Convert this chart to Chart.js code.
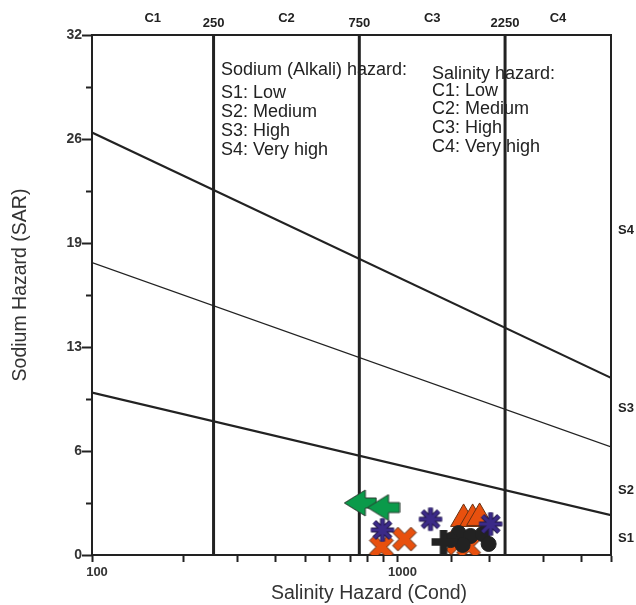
<!DOCTYPE html>
<html>
<head>
<meta charset="utf-8">
<script src="https://cdn.jsdelivr.net/npm/chart.js@4/dist/chart.umd.min.js"></script>
<style>
    body { margin: 0; background: #fff; }
    canvas { display: block; }
</style>
</head>
<body>
<canvas id="wilcoxChart" width="636" height="605"></canvas>
<script>
// Salinity (EC) class boundaries and axis range
const ecRange = [100, 5000];
const sarRange = [0, 32];
const ecBounds = [250, 750, 2250];
const ecBoundLabels = ['250', '750', '2250'];
const cClasses = ['C1', 'C2', 'C3', 'C4'];
const sClasses = ['S1', 'S2', 'S3', 'S4'];
const sClassSAR = [1, 4, 9, 20];

// Sodium hazard boundaries: SAR at EC=100 and at EC=5000
const hazardStart = [26, 18, 10];
const hazardEnd = [10.9, 6.65, 2.45];

// Samples (EC, SAR) by symbol
const arrowEC = [756, 900];
const arrowSAR = [3.2, 2.92];
const starEC = [893, 1283, 2018];
const starSAR = [1.54, 2.2, 1.91];
const crossEC = [886, 1054, 1573, 1709];
const crossSAR = [0.49, 0.98, 0.74, 0.55];
const triEC = [1646, 1762, 1857];
const triSAR = [2.22, 2.22, 2.28];
const dotEC = [1585, 1735, 1900, 1988, 1634, 1492];
const dotSAR = [1.35, 1.17, 1.29, 0.68, 0.62, 0.92];
const plusEC = [1415];
const plusSAR = [0.8];

const sodiumLegend = ['Sodium (Alkali) hazard:', 'S1: Low', 'S2: Medium', 'S3: High', 'S4: Very high'];
const salinityLegend = ['Salinity hazard:', 'C1: Low', 'C2: Medium', 'C3: High', 'C4: Very high'];

const INK = '#222';
const GREEN = '#0a9a4a';
const ORANGE = '#e8500e';
const PURPLE = '#3b2a88';

function pts(xs, ys) {
    return xs.map((x, i) => ({ x: x, y: ys[i] }));
}

function marker(w, h, draw) {
    const c = document.createElement('canvas');
    c.width = w; c.height = h;
    draw(c.getContext('2d'), w, h);
    return c;
}

// cross-shaped polygon (plus), optionally rotated
function crossPath(ctx, cx, cy, L, t, rot) {
    const p = [[-t,-L],[t,-L],[t,-t],[L,-t],[L,t],[t,t],[t,L],[-t,L],[-t,t],[-L,t],[-L,-t],[-t,-t]];
    const c = Math.cos(rot), s = Math.sin(rot);
    ctx.beginPath();
    p.forEach((q, i) => {
        const x = cx + q[0] * c - q[1] * s;
        const y = cy + q[0] * s + q[1] * c;
        if (i === 0) ctx.moveTo(x, y); else ctx.lineTo(x, y);
    });
    ctx.closePath();
}

const arrowImg = marker(34, 28, function(ctx, w, h) {
    const cy = h / 2;
    ctx.beginPath();
    ctx.moveTo(1, cy);
    ctx.lineTo(22, 1);
    ctx.lineTo(22, cy - 5);
    ctx.lineTo(w - 1, cy - 5);
    ctx.lineTo(w - 1, cy + 5);
    ctx.lineTo(22, cy + 5);
    ctx.lineTo(22, h - 1);
    ctx.closePath();
    ctx.fillStyle = GREEN;
    ctx.fill();
    ctx.lineWidth = 1;
    ctx.strokeStyle = '#2b3a30';
    ctx.stroke();
});

const starImg = marker(26, 26, function(ctx, w, h) {
    const c = w / 2, r = 11.5;
    const spokes = function() {
        ctx.beginPath();
        for (let k = 0; k < 4; k++) {
            const a = k * Math.PI / 4;
            ctx.moveTo(c - Math.cos(a) * r, c - Math.sin(a) * r);
            ctx.lineTo(c + Math.cos(a) * r, c + Math.sin(a) * r);
        }
    };
    spokes();
    ctx.strokeStyle = '#241a4a';
    ctx.lineWidth = 5;
    ctx.stroke();
    spokes();
    ctx.strokeStyle = PURPLE;
    ctx.lineWidth = 3.2;
    ctx.stroke();
});

const crossImg = marker(28, 28, function(ctx, w, h) {
    crossPath(ctx, w / 2, h / 2, 13, 3.8, Math.PI / 4);
    ctx.fillStyle = ORANGE;
    ctx.fill();
    ctx.lineWidth = 1;
    ctx.strokeStyle = '#5a2a10';
    ctx.stroke();
});

const plusImg = marker(26, 26, function(ctx, w, h) {
    crossPath(ctx, w / 2, h / 2, 12, 3.8, 0);
    ctx.fillStyle = INK;
    ctx.fill();
});

const datasets = [];

datasets.push({ label: 'asterisk', data: pts(starEC, starSAR), pointStyle: starImg, order: 1 });
datasets.push({ label: 'plus', data: pts(plusEC, plusSAR), pointStyle: plusImg, order: 2 });
datasets.push({ label: 'circle', data: pts(dotEC, dotSAR), pointStyle: 'circle', pointRadius: 7.5,
    backgroundColor: INK, borderColor: INK, borderWidth: 1, order: 3 });
datasets.push({ label: 'cross', data: pts(crossEC, crossSAR), pointStyle: crossImg, order: 4 });
datasets.push({ label: 'triangle', data: pts(triEC, triSAR), pointStyle: 'triangle', pointRadius: 15,
    backgroundColor: ORANGE, borderColor: '#6a3010', borderWidth: 1, order: 5 });
datasets.push({ label: 'arrow', data: pts(arrowEC, arrowSAR), pointStyle: arrowImg, order: 6 });

const hazardWidths = [2.2, 1.3, 2.2];
hazardStart.forEach(function(s, i) {
    datasets.push({
        label: 'hazard' + i,
        data: [{ x: ecRange[0], y: s }, { x: ecRange[1], y: hazardEnd[i] }],
        showLine: true, borderColor: INK, borderWidth: hazardWidths[i],
        pointRadius: 0, order: 7
    });
});

ecBounds.forEach(function(b, i) {
    datasets.push({
        label: 'bound' + i,
        data: [{ x: b, y: sarRange[0] }, { x: b, y: sarRange[1] }],
        showLine: true, borderColor: INK, borderWidth: 3,
        pointRadius: 0, order: 8
    });
});

// Texts, frame and y-axis ticks
const overlay = {
    id: 'overlay',
    beforeDatasetsDraw(chart) {
        const ctx = chart.ctx;
        ctx.save();
        ctx.fillStyle = INK;
        ctx.font = '18px "Liberation Sans", Arial, sans-serif';
        ctx.textAlign = 'left';
        ctx.textBaseline = 'middle';
        const sy = [70, 93, 112, 131, 150];
        const cy = [74, 91, 109, 128, 147];
        sodiumLegend.forEach((t, i) => ctx.fillText(t, 221, sy[i]));
        salinityLegend.forEach((t, i) => ctx.fillText(t, 432, cy[i]));
        ctx.restore();
    },
    afterDraw(chart) {
        const ctx = chart.ctx;
        const a = chart.chartArea;
        const xs = chart.scales.x, ys = chart.scales.y;
        ctx.save();
        ctx.strokeStyle = INK;
        ctx.lineWidth = 2;
        ctx.beginPath();
        ctx.moveTo(a.left, a.top);
        ctx.lineTo(a.right, a.top);
        ctx.lineTo(a.right, a.bottom);
        ctx.stroke();

        // y ticks: long for labelled, short for others
        ys.ticks.forEach(function(t, i) {
            const py = Math.round(ys.getPixelForValue(t.value)) + 0.5;
            ctx.beginPath();
            ctx.moveTo(a.left - (i % 2 === 0 ? 10 : 6), py);
            ctx.lineTo(a.left, py);
            ctx.stroke();
        });

        ctx.fillStyle = INK;
        ctx.font = 'bold 13px "Liberation Sans", Arial, sans-serif';
        ctx.textAlign = 'center';
        ctx.textBaseline = 'middle';
        const edges = [ecRange[0]].concat(ecBounds, [ecRange[1]]);
        cClasses.forEach(function(c, i) {
            const mid = Math.sqrt(edges[i] * edges[i + 1]);
            ctx.fillText(c, xs.getPixelForValue(mid), 18);
        });
        ecBounds.forEach(function(b, i) {
            ctx.fillText(ecBoundLabels[i], xs.getPixelForValue(b), 23);
        });
        ctx.textAlign = 'left';
        sClasses.forEach(function(s, i) {
            ctx.fillText(s, a.right + 7, ys.getPixelForValue(sClassSAR[i]));
        });

        ctx.fillStyle = '#333';
        ctx.font = '19.5px "Liberation Sans", Arial, sans-serif';
        ctx.textAlign = 'center';
        ctx.fillText('Salinity Hazard (Cond)', 369, 594);
        ctx.translate(21, 285);
        ctx.rotate(-Math.PI / 2);
        ctx.fillText('Sodium Hazard (SAR)', 0, 0);
        ctx.restore();
    }
};

new Chart(document.getElementById('wilcoxChart'), {
    type: 'scatter',
    data: { datasets: datasets },
    options: {
        responsive: false,
        animation: false,
        devicePixelRatio: 1,
        layout: { padding: { top: 35, right: 25, left: 0, bottom: 0 } },
        plugins: { legend: { display: false }, tooltip: { enabled: false } },
        scales: {
            x: {
                type: 'logarithmic',
                min: ecRange[0],
                max: ecRange[1],
                afterFit(scale) { scale.height = 50; },
                border: { color: INK, width: 2 },
                grid: { drawOnChartArea: false, tickLength: 7, tickColor: INK, tickWidth: 2 },
                ticks: {
                    autoSkip: false,
                    maxRotation: 0,
                    padding: 3,
                    labelOffset: 5,
                    color: '#333',
                    font: { family: '"Liberation Sans", Arial, sans-serif', size: 13, weight: 'bold' },
                    callback: function(v) { return (v === 100 || v === 1000) ? String(v) : ''; }
                }
            },
            y: {
                min: sarRange[0],
                max: sarRange[1],
                afterFit(scale) { scale.width = 92; },
                border: { color: INK, width: 2 },
                grid: { drawOnChartArea: false, drawTicks: false },
                ticks: {
                    stepSize: 3.2,
                    padding: 10,
                    color: '#333',
                    font: { family: '"Liberation Sans", Arial, sans-serif', size: 14, weight: 'bold' },
                    callback: function(v, i) { return i % 2 === 0 ? String(Math.round(v)) : ''; }
                }
            }
        }
    },
    plugins: [overlay]
});
</script>
</body>
</html>
